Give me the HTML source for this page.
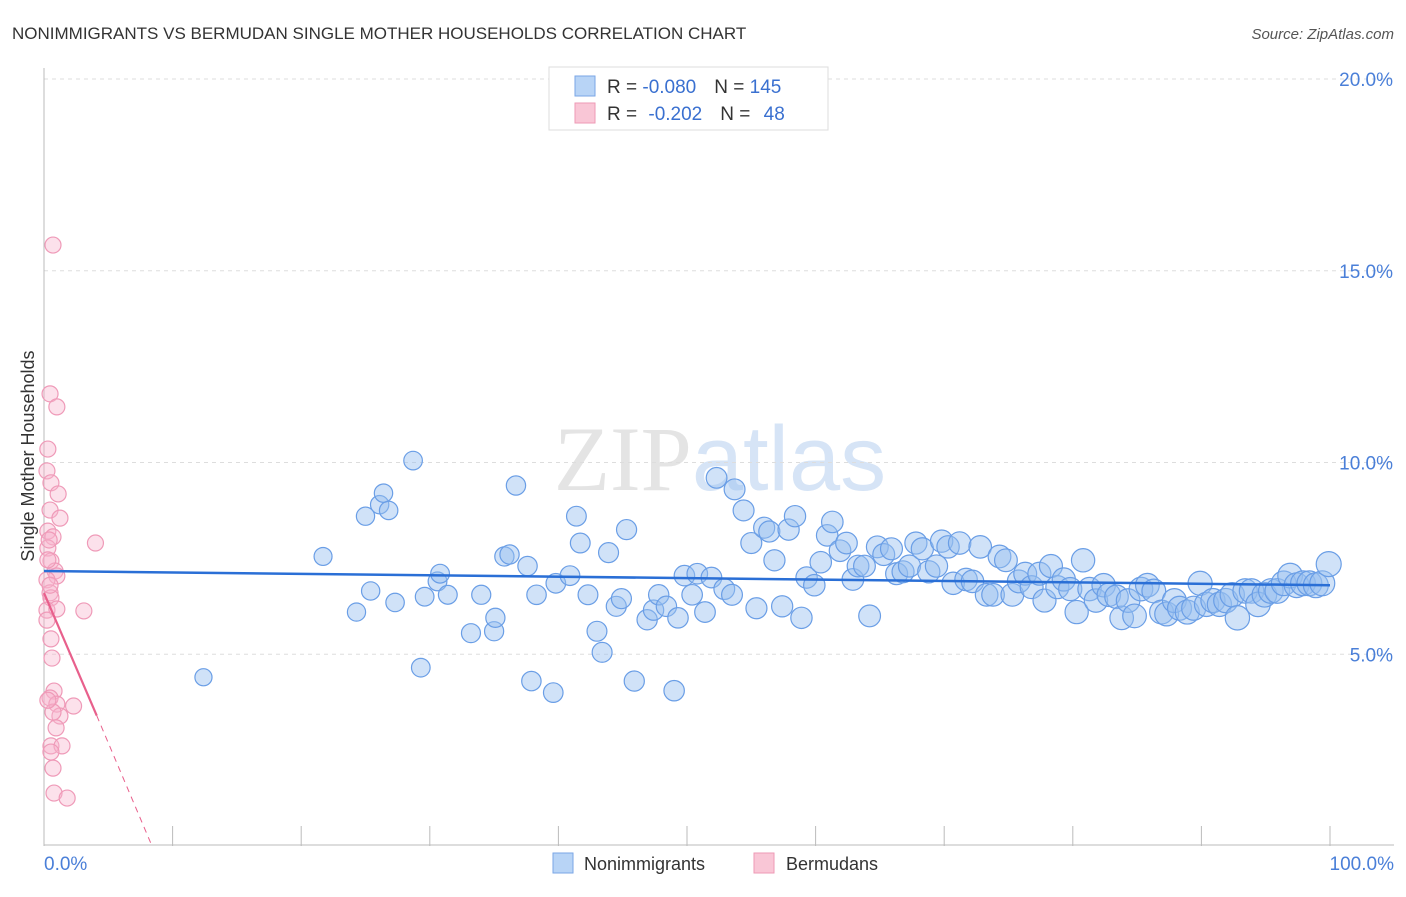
<!DOCTYPE html>
<html><head><meta charset="utf-8"><style>
body{margin:0;background:#fff;font-family:"Liberation Sans",sans-serif;}
svg text{font-family:"Liberation Sans",sans-serif;}
</style></head><body>
<svg id="chart" width="1406" height="892" viewBox="0 0 1406 892" xmlns="http://www.w3.org/2000/svg">
<text x="12" y="39" font-size="17" fill="#333">NONIMMIGRANTS VS BERMUDAN SINGLE MOTHER HOUSEHOLDS CORRELATION CHART</text>
<text x="1394" y="39" font-size="15" fill="#555" text-anchor="end" font-style="italic">Source: ZipAtlas.com</text>
<text x="720" y="490" font-size="92" fill="#e4e4e4" text-anchor="middle" font-family="Liberation Serif"><tspan font-family="Liberation Serif">ZIP</tspan><tspan fill="#d6e4f6" font-family="Liberation Sans">atlas</tspan></text>
<g id="grid"></g>
<g id="axes"></g>
<g id="pts"></g>
<g id="trends"></g>
<text transform="translate(34,456) rotate(-90)" font-size="18" fill="#333" text-anchor="middle">Single Mother Households</text>
<g>
<rect x="549" y="67" width="279" height="63" fill="#fff" stroke="#ddd"/>
<rect x="575" y="76" width="20" height="20" fill="#b8d4f6" stroke="#7aa6e6"/>
<rect x="575" y="103" width="20" height="20" fill="#f9c6d6" stroke="#ee9ab5"/>
<text x="607" y="93" font-size="19" fill="#333">R = <tspan fill="#3a70d0">-0.080</tspan><tspan dx="18">N = </tspan><tspan fill="#3a70d0">145</tspan></text>
<text x="607" y="120" font-size="19" fill="#333">R = <tspan dx="6" fill="#3a70d0">-0.202</tspan><tspan dx="18">N = </tspan><tspan dx="8" fill="#3a70d0">48</tspan></text>
</g>
<g>
<rect x="553" y="853" width="20" height="20" fill="#b8d4f6" stroke="#7aa6e6"/>
<text x="584" y="870" font-size="18" fill="#333">Nonimmigrants</text>
<rect x="754" y="853" width="20" height="20" fill="#f9c6d6" stroke="#ee9ab5"/>
<text x="786" y="870" font-size="18" fill="#333">Bermudans</text>
</g>
</svg>
<script>
const yTicks=[5,10,15,20];
const yTickLabels=["5.0%","10.0%","15.0%","20.0%"];
const xTickLabels=["0.0%","100.0%"];
const blueX=[12.4,21.7,24.3,25.0,25.4,26.1,26.4,26.8,27.3,28.7,29.3,29.6,30.6,30.8,31.4,33.2,34.0,35.0,35.1,35.8,36.2,36.7,37.6,37.9,38.3,39.6,39.8,40.9,41.4,41.7,42.3,43.0,43.4,43.9,44.5,44.9,45.3,45.9,46.9,47.4,47.8,48.4,49.0,49.3,49.8,50.8,50.4,51.4,51.9,52.3,52.9,53.5,53.7,54.4,55.0,55.4,56.0,56.4,56.8,57.4,57.9,58.4,58.9,59.3,59.9,60.4,60.9,61.3,61.9,62.4,62.9,63.3,63.8,64.2,64.8,65.3,65.9,66.3,66.8,67.3,67.8,68.3,68.8,69.4,69.8,70.3,70.7,71.2,71.7,72.2,72.8,73.3,73.8,74.3,74.8,75.3,75.8,76.3,76.8,77.4,77.8,78.3,78.8,79.3,79.8,80.3,80.8,81.3,81.8,82.4,82.8,83.4,83.8,84.3,84.8,85.3,85.8,86.3,86.9,87.3,87.9,88.3,88.9,89.4,89.9,90.4,90.9,91.4,91.9,92.4,92.8,93.4,93.9,94.4,94.9,95.4,95.9,96.4,96.9,97.4,97.9,98.4,98.9,99.4,99.9];
const blueY=[4.4,7.55,6.1,8.6,6.65,8.9,9.2,8.75,6.35,10.05,4.65,6.5,6.9,7.1,6.55,5.55,6.55,5.6,5.95,7.55,7.6,9.4,7.3,4.3,6.55,4.0,6.85,7.05,8.6,7.9,6.55,5.6,5.05,7.65,6.25,6.45,8.25,4.3,5.9,6.15,6.55,6.25,4.05,5.95,7.05,7.1,6.55,6.1,7.0,9.6,6.7,6.55,9.3,8.75,7.9,6.2,8.3,8.2,7.45,6.25,8.25,8.6,5.95,7.0,6.8,7.4,8.1,8.45,7.7,7.9,6.95,7.3,7.3,6.0,7.8,7.6,7.75,7.1,7.15,7.3,7.9,7.75,7.15,7.3,7.95,7.8,6.85,7.9,6.95,6.9,7.8,6.55,6.55,7.55,7.45,6.55,6.9,7.1,6.75,7.1,6.4,7.3,6.75,6.95,6.7,6.1,7.45,6.7,6.4,6.8,6.55,6.5,5.95,6.4,6.0,6.7,6.8,6.65,6.1,6.05,6.4,6.2,6.1,6.2,6.85,6.3,6.4,6.3,6.4,6.55,5.95,6.65,6.65,6.3,6.55,6.65,6.65,6.85,7.05,6.8,6.85,6.85,6.8,6.85,7.35];
const pinkX=[0.7,0.47,1.0,0.3,0.23,0.54,1.1,0.47,1.24,0.3,0.7,0.3,4.0,0.54,0.86,1.0,0.23,3.1,0.47,0.54,0.23,1.0,0.54,0.62,0.78,0.47,1.0,2.3,1.24,0.94,0.54,1.4,0.54,0.7,0.78,1.8,0.3,0.47,0.23,0.4,0.7,0.3];
const pinkY=[15.67,11.79,11.45,10.35,9.78,9.47,9.18,8.76,8.55,8.21,8.06,7.77,7.9,7.43,7.17,7.04,6.94,6.13,6.6,6.47,6.15,6.18,5.4,4.9,4.04,3.86,3.7,3.65,3.39,3.08,2.61,2.61,2.45,2.03,1.38,1.25,7.46,6.8,5.89,7.98,3.49,3.8];
const blueTrend=[7.17,6.8];
const pinkTrend=[6.6,3.4,0];
const pinkTrendX=[0,4.1,8.4];
const NS='http://www.w3.org/2000/svg';
const X0=44,X1=1330,YB=846,PX=38.35;
const sx=v=>X0+(X1-X0)*v/100, sy=v=>YB-v*PX;
function mk(tag,attrs,parent){const e=document.createElementNS(NS,tag);for(const k in attrs)e.setAttribute(k,attrs[k]);parent.appendChild(e);return e;}
const grid=document.getElementById('grid'),axes=document.getElementById('axes'),pts=document.getElementById('pts'),tr=document.getElementById('trends');
yTicks.forEach((t,i)=>{
 const l=mk('line',{x1:X0,x2:1394,y1:sy(t),y2:sy(t),stroke:'#ddd','stroke-dasharray':'4,4'},grid);
 
 
 const tx=mk('text',{x:1393,y:sy(t)+7,'font-size':19,fill:'#4a7fd8','text-anchor':'end'},axes);
 tx.textContent=yTickLabels[i];
 
 
});
let a=mk('line',{x1:X0,x2:X0,y1:68,y2:YB,stroke:'#bbb'},axes);


a=mk('line',{x1:X0,x2:1394,y1:YB-1,y2:YB-1,stroke:'#bbb'},axes);


for(let i=1;i<=10;i++){const t=mk('line',{x1:sx(i*10),x2:sx(i*10),y1:826,y2:YB,stroke:'#bbb'},axes);
 
 }
[[0,'start',X0],[1,'end',1394]].forEach(([i,an,x])=>{const t=mk('text',{x:x,y:870,'font-size':19,fill:'#4a7fd8','text-anchor':an},axes);t.textContent=xTickLabels[i];
 
 });
blueX.forEach((x,i)=>{const c=mk('circle',{cx:sx(x),cy:sy(blueY[i]),r:8+x*0.045,fill:'rgba(150,190,240,0.45)',stroke:'#6a9ee6','stroke-width':1.2},pts);
 
 });
pinkX.forEach((x,i)=>{const c=mk('circle',{cx:sx(x),cy:sy(pinkY[i]),r:8,fill:'rgba(248,180,205,0.4)',stroke:'#ef9ab8','stroke-width':1.2},pts);
 
 });
let l=mk('line',{x1:sx(0),x2:sx(100),y1:sy(blueTrend[0]),y2:sy(blueTrend[1]),stroke:'#2a6fd6','stroke-width':2.5},tr);


l=mk('line',{x1:sx(pinkTrendX[0]),x2:sx(pinkTrendX[1]),y1:sy(pinkTrend[0]),y2:sy(pinkTrend[1]),stroke:'#e8608c','stroke-width':2.2},tr);


l=mk('line',{x1:sx(pinkTrendX[1]),x2:sx(pinkTrendX[2]),y1:sy(pinkTrend[1]),y2:sy(pinkTrend[2]),stroke:'#e8608c','stroke-width':1,'stroke-dasharray':'6,5'},tr);


</script>
</body></html>
